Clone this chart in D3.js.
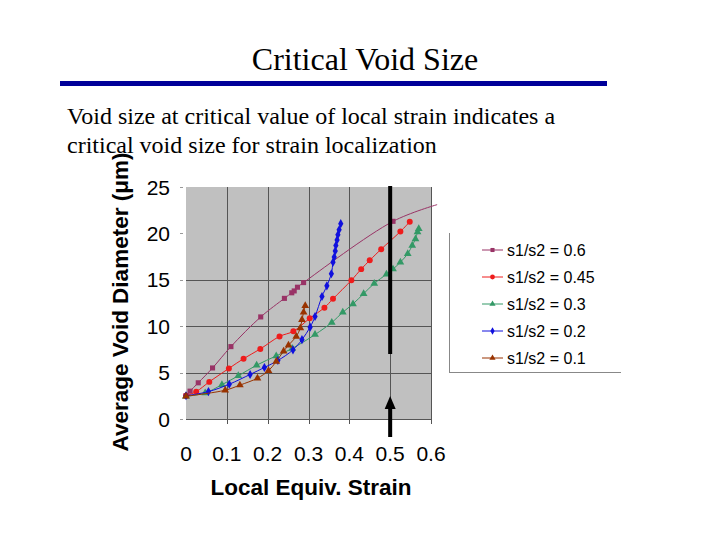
<!DOCTYPE html>
<html>
<head>
<meta charset="utf-8">
<script src="https://cdn.jsdelivr.net/npm/d3@7"></script>
<style>
  body { margin: 0; background: #fff; }
  svg { display: block; }
</style>
</head>
<body>
<div id="chart"></div>
<script>
var ctx = {
    w: 720,
    h: 540
};

// series data: strain, void diameter (um)
var s06x = [0, 0.010, 0.030, 0.065, 0.110, 0.183, 0.241, 0.259, 0.265, 0.273, 0.288, 0.507];
var s06y = [2.5, 3.0, 3.9, 5.5, 7.8, 11.0, 13.0, 13.6, 13.8, 14.2, 14.7, 21.3];
// purple trend continues past the last marker
var s06endX = 0.615;
var s06endY = 23.1;

var s045x = [0, 0.025, 0.057, 0.105, 0.141, 0.182, 0.229, 0.263, 0.303, 0.339, 0.360, 0.405, 0.429, 0.450, 0.478, 0.525, 0.548];
var s045y = [2.5, 2.95, 4.0, 5.45, 6.5, 7.55, 8.9, 9.45, 10.85, 12.0, 12.95, 14.95, 16.15, 17.1, 18.3, 20.2, 21.25];

var s03x = [0, 0.047, 0.088, 0.128, 0.173, 0.221, 0.260, 0.316, 0.357, 0.384, 0.409, 0.435, 0.461, 0.491, 0.507, 0.525, 0.543, 0.554, 0.562, 0.567, 0.570];
var s03y = [2.45, 2.8, 3.7, 4.65, 5.8, 6.8, 7.6, 9.1, 10.4, 11.5, 12.4, 13.5, 14.6, 15.6, 16.15, 16.9, 17.8, 18.7, 19.4, 20.15, 20.5];

var s02x = [0, 0.055, 0.106, 0.157, 0.192, 0.225, 0.262, 0.284, 0.304, 0.316, 0.333, 0.345, 0.356, 0.360, 0.363, 0.3655, 0.367, 0.370, 0.372, 0.375, 0.379];
var s02y = [2.5, 2.95, 3.75, 4.8, 5.55, 6.3, 7.45, 8.55, 9.9, 11.05, 13.2, 14.35, 15.65, 16.9, 17.45, 18.1, 18.7, 19.3, 19.85, 20.4, 21.05];

var s01x = [0, 0.096, 0.132, 0.175, 0.202, 0.221, 0.239, 0.251, 0.270, 0.280, 0.284, 0.288, 0.292];
var s01y = [2.45, 3.1, 3.65, 4.4, 5.2, 6.2, 7.3, 7.95, 8.9, 9.8, 10.7, 11.5, 12.2];

var seriesNames = ["s1/s2 = 0.6", "s1/s2 = 0.45", "s1/s2 = 0.3", "s1/s2 = 0.2", "s1/s2 = 0.1"];
var seriesColors = ["#993366", "#ee1c1c", "#339966", "#1010dd", "#993300"];
var seriesMarkers = ["square", "circle", "triangle", "diamond", "triangle"];

var xTicks = [0, 0.1, 0.2, 0.3, 0.4, 0.5, 0.6];
var yTicks = [0, 5, 10, 15, 20, 25];
var xGrid = [0.1, 0.2, 0.3, 0.4, 0.5, 0.6];
var yGrid = [0, 5, 10, 15];

var criticalStrain = 0.5;

var zip = function (xs, ys) {
    var out = [];
    for (var i = 0; i < xs.length; i++) {
        out.push({ x: xs[i], y: ys[i] });
    }
    return out;
};

var markerPath = function (type) {
    if (type == "square") return d3.symbol().type(d3.symbolSquare).size(26)();
    if (type == "circle") return d3.symbol().type(d3.symbolCircle).size(28)();
    if (type == "triangle") return d3.symbol().type(d3.symbolTriangle).size(26)();
    return d3.symbol().type(d3.symbolDiamond).size(24)();
};

var createViz = function () {
    var svg = d3.select("#chart").append("svg")
        .attr("width", ctx.w)
        .attr("height", ctx.h);

    // slide title and rule
    svg.append("text")
        .attr("x", 365)
        .attr("y", 70)
        .attr("text-anchor", "middle")
        .style("font-family", "'Liberation Serif', 'Times New Roman', serif")
        .style("font-size", "32px")
        .text("Critical Void Size");

    svg.append("rect")
        .attr("x", 60).attr("y", 81)
        .attr("width", 547).attr("height", 5)
        .style("fill", "#000099");

    var body = svg.append("text")
        .style("font-family", "'Liberation Serif', 'Times New Roman', serif")
        .style("font-size", "24px");
    body.append("tspan").attr("x", 67).attr("y", 124)
        .text("Void size at critical value of local strain indicates a");
    body.append("tspan").attr("x", 67).attr("y", 153)
        .text("critical void size for strain localization");

    var x = d3.scaleLinear().domain([0, 0.6]).range([186, 431]);
    var y = d3.scaleLinear().domain([0, 25]).range([419, 187]);

    // plot area
    svg.append("rect")
        .attr("x", x(0)).attr("y", y(25))
        .attr("width", x(0.6) - x(0)).attr("height", y(0) - y(25))
        .style("fill", "#c0c0c0");

    svg.selectAll(".vgrid")
        .data(xGrid)
        .enter().append("line")
        .attr("class", "vgrid")
        .attr("x1", function (d) { return Math.round(x(d)) + 0.5; })
        .attr("x2", function (d) { return Math.round(x(d)) + 0.5; })
        .attr("y1", y(25)).attr("y2", y(0) + 5)
        .style("stroke", "#555")
        .style("stroke-width", 1);

    svg.selectAll(".hgrid")
        .data(yGrid)
        .enter().append("line")
        .attr("class", "hgrid")
        .attr("x1", x(0)).attr("x2", x(0.6))
        .attr("y1", function (d) { return Math.round(y(d)) + 0.5; })
        .attr("y2", function (d) { return Math.round(y(d)) + 0.5; })
        .style("stroke", "#555")
        .style("stroke-width", 1);

    // small y ticks left of the plot
    svg.selectAll(".ytick")
        .data(yTicks)
        .enter().append("line")
        .attr("class", "ytick")
        .attr("x1", x(0) - 6).attr("x2", x(0) - 3)
        .attr("y1", function (d) { return Math.round(y(d)) + 0.5; })
        .attr("y2", function (d) { return Math.round(y(d)) + 0.5; })
        .style("stroke", "#999");

    svg.selectAll(".ylab")
        .data(yTicks)
        .enter().append("text")
        .attr("class", "ylab")
        .attr("x", 170)
        .attr("y", function (d) { return y(d) + 7.5; })
        .attr("text-anchor", "end")
        .style("font-family", "'Liberation Sans', Arial, sans-serif")
        .style("font-size", "21px")
        .text(function (d) { return d; });

    svg.selectAll(".xlab")
        .data(xTicks)
        .enter().append("text")
        .attr("class", "xlab")
        .attr("x", function (d) { return x(d); })
        .attr("y", 461)
        .attr("text-anchor", "middle")
        .style("font-family", "'Liberation Sans', Arial, sans-serif")
        .style("font-size", "21px")
        .text(function (d) { return d; });

    svg.append("text")
        .attr("x", 311)
        .attr("y", 495)
        .attr("text-anchor", "middle")
        .style("font-family", "'Liberation Sans', Arial, sans-serif")
        .style("font-size", "22.5px")
        .style("font-weight", "bold")
        .text("Local Equiv. Strain");

    svg.append("text")
        .attr("transform", "translate(128,302) rotate(-90)")
        .attr("text-anchor", "middle")
        .style("font-family", "'Liberation Sans', Arial, sans-serif")
        .style("font-size", "22.5px")
        .style("font-weight", "bold")
        .text("Average Void Diameter (\u03bcm)");

    // series
    var series = [
        { pts: zip(s06x, s06y), line: zip(s06x.concat([s06endX]), s06y.concat([s06endY])) },
        { pts: zip(s045x, s045y) },
        { pts: zip(s03x, s03y) },
        { pts: zip(s02x, s02y) },
        { pts: zip(s01x, s01y) }
    ];

    var line = d3.line()
        .x(function (d) { return x(d.x); })
        .y(function (d) { return y(d.y); })
        .curve(d3.curveCatmullRom.alpha(0.5));

    series.forEach(function (s, i) {
        svg.append("path")
            .datum(s.line || s.pts)
            .attr("d", line)
            .style("fill", "none")
            .style("stroke", seriesColors[i])
            .style("stroke-width", 1);

        svg.selectAll(".m" + i)
            .data(s.pts)
            .enter().append("path")
            .attr("class", "m" + i)
            .attr("d", markerPath(seriesMarkers[i]))
            .attr("transform", function (d) {
                return "translate(" + x(d.x) + "," + y(d.y) + ")";
            })
            .style("fill", seriesColors[i]);
    });

    // critical strain marker bar and arrow
    var bx = x(criticalStrain);
    svg.append("rect")
        .attr("x", bx - 2).attr("y", 186)
        .attr("width", 4).attr("height", 168)
        .style("fill", "#000");
    svg.append("rect")
        .attr("x", bx - 2).attr("y", 406)
        .attr("width", 4).attr("height", 31)
        .style("fill", "#000");
    svg.append("path")
        .attr("d", "M" + bx + ",396 L" + (bx - 5.5) + ",409 L" + (bx + 5.5) + ",409 Z")
        .style("fill", "#000");

    // legend
    var lg = svg.append("g");
    lg.append("line")
        .attr("x1", 449.5).attr("x2", 449.5)
        .attr("y1", 233).attr("y2", 372)
        .style("stroke", "#888");
    lg.append("line")
        .attr("x1", 449).attr("x2", 621)
        .attr("y1", 372.5).attr("y2", 372.5)
        .style("stroke", "#888");

    seriesNames.forEach(function (name, i) {
        var ly = 250 + i * 27;
        lg.append("line")
            .attr("x1", 482).attr("x2", 503)
            .attr("y1", ly).attr("y2", ly)
            .style("stroke", seriesColors[i])
            .style("stroke-width", 1);
        lg.append("path")
            .attr("d", markerPath(seriesMarkers[i]))
            .attr("transform", "translate(492.5," + ly + ") scale(0.8)")
            .style("fill", seriesColors[i]);
        lg.append("text")
            .attr("x", 507)
            .attr("y", ly + 5.5)
            .style("font-family", "'Liberation Sans', Arial, sans-serif")
            .style("font-size", "16px")
            .text(name);
    });
};

createViz();
</script>
</body>
</html>
